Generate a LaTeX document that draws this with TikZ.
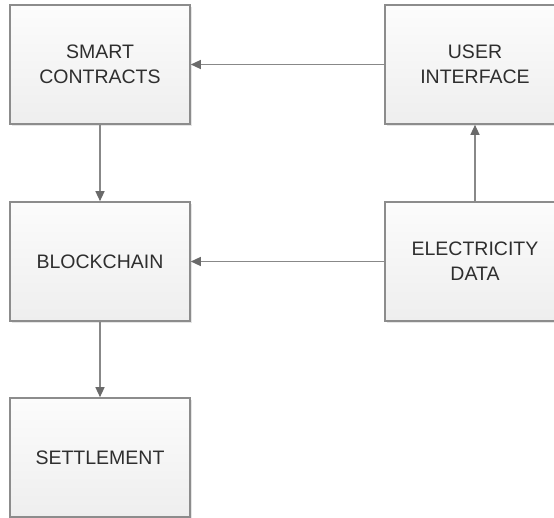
\documentclass[tikz,border=0pt]{standalone}
\usepackage{fontspec}
\setmainfont{Liberation Sans}
\usetikzlibrary{arrows.meta,shadows}
\definecolor{boxline}{HTML}{8C8C8C}
\definecolor{boxtop}{HTML}{FCFCFC}
\definecolor{boxbot}{HTML}{EEEEEE}
\definecolor{txt}{HTML}{2E2E2E}
\definecolor{arr}{HTML}{888888}
\definecolor{tip}{HTML}{6A6A6A}
\tikzset{
  block/.style={draw=boxline, line width=1.6pt, top color=boxtop, bottom color=boxbot,
    minimum width=180pt, minimum height=119pt, inner sep=0pt,
    align=center, text=txt, font=\fontsize{19.5}{25}\selectfont,
    drop shadow={shadow xshift=1.5pt, shadow yshift=-1.5pt, fill=black!20, opacity=0.5}},
  link/.style={draw=arr, line width=1.3pt, -{Triangle[length=10pt,width=9pt,fill=tip,color=tip]}}
}
\begin{document}
\begin{tikzpicture}[x=1pt,y=-1pt]
  \useasboundingbox (0,0) rectangle (554,517);
  \clip (0,0) rectangle (554,517);
  \node[block] (sc) at (100,64.5) {SMART\\CONTRACTS};
  \node[block] (ui) at (475,64.5) {USER\\INTERFACE};
  \node[block] (bc) at (100,261.5) {BLOCKCHAIN};
  \node[block] (ed) at (475,261.5) {ELECTRICITY\\DATA};
  \node[block] (st) at (100,457.5) {SETTLEMENT};
  \draw[link] (ui.west) -- (sc.east);
  \draw[link] (sc.south) -- (bc.north);
  \draw[link] (ed.west) -- (bc.east);
  \draw[link] (ed.north) -- (ui.south);
  \draw[link] (bc.south) -- (st.north);
\end{tikzpicture}
\end{document}
